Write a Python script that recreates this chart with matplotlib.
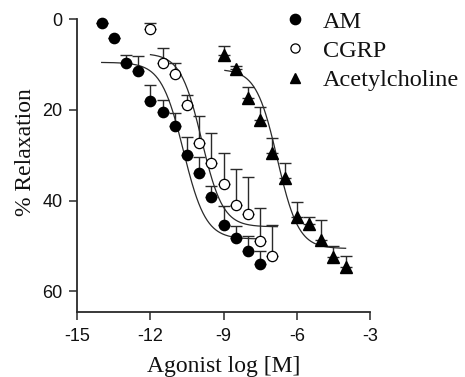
import numpy as np
import matplotlib
matplotlib.use('Agg')
import matplotlib.pyplot as plt
from matplotlib.lines import Line2D

plt.rcParams['axes.unicode_minus'] = False

# 数据 (log M, % relaxation, SEM)
am_x = [-14, -13.5, -13, -12.5, -12, -11.5, -11, -10.5, -10, -9.5, -9, -8.5, -8, -7.5]
am_y = [0.8, 4.1, 9.6, 11.4, 18.0, 20.5, 23.6, 29.9, 34.0, 39.2, 45.5, 48.3, 51.2, 53.9]
am_err = [0, 0, 1.8, 3.3, 3.5, 2.6, 2.9, 4.0, 3.5, 2.4, 4.4, 2.6, 3.3, 2.7]

cgrp_x = [-12, -11.5, -11, -10.5, -10, -9.5, -9, -8.5, -8, -7.5, -7]
cgrp_y = [2.2, 9.6, 12.1, 19.0, 27.4, 31.7, 36.4, 41.0, 43.0, 48.9, 52.3]
cgrp_err = [1.3, 3.3, 2.5, 2.3, 6.0, 6.6, 6.9, 7.9, 8.1, 7.2, 6.8]

ach_x = [-9, -8.5, -8, -7.5, -7, -6.5, -6, -5.5, -5, -4.5, -4]
ach_y = [7.9, 11.0, 17.4, 22.3, 29.6, 35.1, 43.6, 45.1, 48.7, 52.4, 54.6]
ach_err = [2.0, 0.8, 2.4, 3.0, 3.4, 3.3, 3.3, 1.5, 4.4, 2.4, 2.3]

# 拟合曲线参数: (top, bottom, logEC50, hill, x_start, x_end)
am_fit = (9.5, 48.5, -10.65, 0.95, -14.0, -7.5)
cgrp_fit = (7.5, 45.8, -9.9, 1.0, -12.0, -6.8)
ach_fit = (11.0, 50.6, -6.8, 1.0, -8.95, -4.0)

ticks_x = [-15, -12, -9, -6, -3]
ticks_y = [0, 20, 40, 60]

DARK = '#2a2a2a'
SERIF = ['Liberation Serif', 'DejaVu Serif']
SANS = ['Liberation Sans', 'DejaVu Sans']


def sigmoid(params):
    top, bottom, ec50, hill, x0, x1 = params
    xs = np.linspace(x0, x1, 300)
    ys = top + (bottom - top) / (1 + 10 ** ((ec50 - xs) * hill))
    return xs, ys


fig = plt.figure(figsize=(4.65, 3.77), dpi=100)
ax = fig.add_axes([0.1662, 0.1724, 0.6295, 0.7764])

# 拟合曲线
for p in (am_fit, cgrp_fit, ach_fit):
    xs, ys = sigmoid(p)
    ax.plot(xs, ys, color=DARK, lw=0.9, zorder=2)

# 误差棒 (只向上)
for xv, yv, ev in ((am_x, am_y, am_err), (cgrp_x, cgrp_y, cgrp_err), (ach_x, ach_y, ach_err)):
    ev = np.array(ev)
    ax.errorbar(xv, yv, yerr=[ev, np.zeros_like(ev)], fmt='none', ecolor=DARK,
                elinewidth=1.0, capsize=4.3, capthick=1.0, zorder=3, clip_on=False)

# 数据点
ax.plot(am_x, am_y, 'o', color='black', ms=7.4, ls='none', zorder=4, clip_on=False)
ax.plot(cgrp_x, cgrp_y, 'o', mfc='white', mec='black', mew=0.9, ms=7.4, ls='none', zorder=4, clip_on=False)
ax.plot(ach_x, ach_y, '^', color='black', ms=8.0, ls='none', zorder=4, clip_on=False)

ax.set_xlim(-15, -3)
ax.set_ylim(64.6, 0)
ax.set_xticks(ticks_x)
ax.set_yticks(ticks_y)

for s in ('top', 'right'):
    ax.spines[s].set_visible(False)
for s in ('left', 'bottom'):
    ax.spines[s].set_color(DARK)
    ax.spines[s].set_linewidth(1.3)
ax.spines['left'].set_bounds(0, 64.6)

ax.tick_params(direction='out', length=5.5, width=1.1, color=DARK, labelsize=13)
ax.tick_params(axis='x', pad=6)
ax.tick_params(axis='y', pad=5)
for lab in ax.get_xticklabels() + ax.get_yticklabels():
    lab.set_family(SANS)
    lab.set_color('#111111')

ax.set_xlabel('Agonist log [M]', family=SERIF, fontsize=17, color='#111111', va='center')
ax.set_ylabel('% Relaxation', family=SERIF, fontsize=17, color='#111111', va='center')
ax.xaxis.set_label_coords(0.5, -0.185)
ax.yaxis.set_label_coords(-0.178, 0.545)

# 图例
handles = [
    Line2D([], [], marker='o', color='black', ls='none', ms=7.4),
    Line2D([], [], marker='o', mfc='white', mec='black', mew=0.9, ls='none', ms=6.6),
    Line2D([], [], marker='^', color='black', ls='none', ms=7.8),
]
leg = ax.legend(handles, ['AM', 'CGRP', 'Acetylcholine'], loc='upper left',
                bbox_to_anchor=(0.712, 1.03), frameon=False, prop={'family': SERIF, 'size': 17.5},
                handlelength=0.8, handletextpad=0.72, labelspacing=0.3, borderpad=0,
                borderaxespad=0)
for t in leg.get_texts():
    t.set_color('#111111')

fig.savefig('out.png', dpi=100)
